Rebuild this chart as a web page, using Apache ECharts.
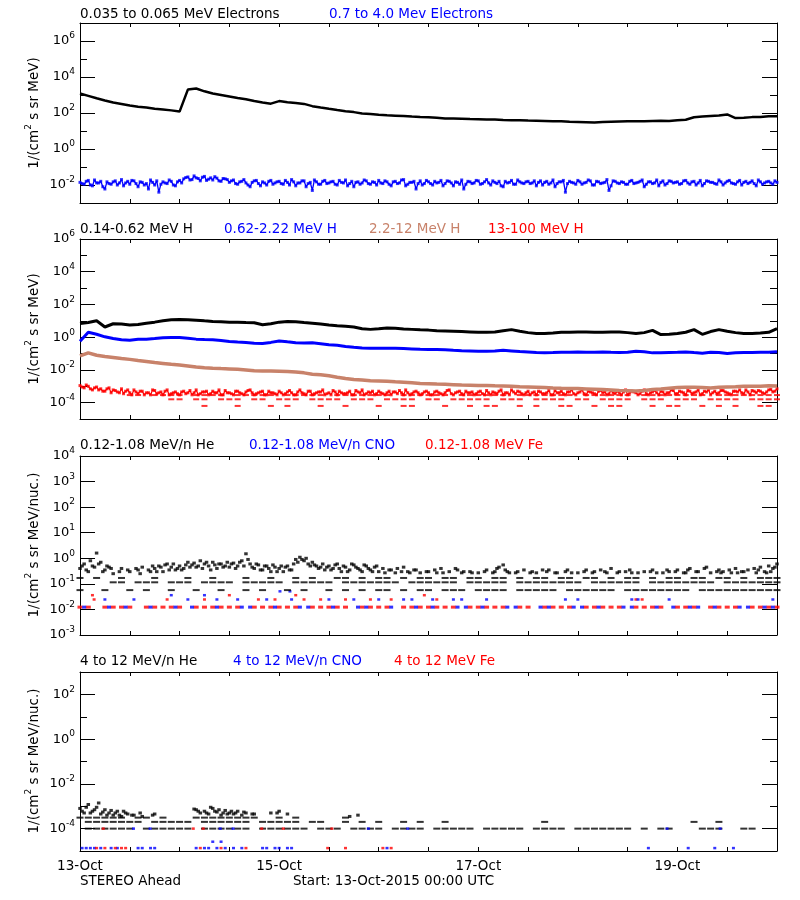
<!DOCTYPE html>
<html><head><meta charset="utf-8">
<script src="https://cdn.jsdelivr.net/npm/echarts@6/dist/echarts.min.js"></script>
<style>html,body{margin:0;padding:0;background:#fff}#c{width:800px;height:900px}</style>
</head><body><div id="c"></div>
<script>
// ================= DATA =================
const xTickHours = [0, 48, 96, 144];
const xTickLabels = ['13-Oct', '15-Oct', '17-Oct', '19-Oct'];
const yLabelExp1 = [-2, 0, 2, 4, 6];
const yLabelExp2 = [-4, -2, 0, 2, 4, 6];
const yLabelExp3 = [-3, -2, -1, 0, 1, 2, 3, 4];
const yLabelExp4 = [-4, -2, 0, 2];

// ---- Panel 1: electrons ----
// 0.035-0.065 MeV electrons, every 2 h from 13-Oct 00:00
const eLow = [1.2e3,8.9e2,6.6e2,5.0e2,3.8e2,3.2e2,2.6e2,2.2e2,2.0e2,1.7e2,1.55e2,1.4e2,
 1.2e2,2.0e3,2.3e3,1.6e3,1.2e3,1.0e3,8.3e2,6.9e2,5.8e2,4.6e2,3.8e2,3.3e2,
 4.6e2,4.0e2,3.6e2,3.2e2,2.4e2,2.0e2,1.7e2,1.45e2,1.26e2,1.12e2,95,87,
 79,74,71,68,63,60,58,54,50,50,48,46,
 45,44,43,41,40,40,38,37,36,35,35,33,
 32,31,30,32,33,34,35,35,35,36,37,36,
 40,42,58,63,68,72,83,52,55,59,60,66,
 66];
// 0.7-4.0 MeV electrons, hourly (on the hour) and hourly (half past)
const eHighA = [0.014,0.011,0.018,0.009,0.013,0.016,0.006,0.012,0.015,0.010,0.020,0.013,
 0.011,0.017,0.008,0.014,0.012,0.019,0.010,0.004,0.015,0.012,0.016,0.009,
 0.018,0.022,0.028,0.020,0.025,0.017,0.030,0.021,0.019,0.024,0.016,0.022,
 0.014,0.019,0.011,0.016,0.013,0.008,0.017,0.012,0.015,0.010,0.018,0.013,
 0.016,0.011,0.014,0.020,0.009,0.013,0.017,0.012,0.005,0.015,0.011,0.018,
 0.013,0.016,0.010,0.014,0.019,0.012,0.008,0.015,0.013,0.017,0.011,0.014,
 0.018,0.012,0.015,0.009,0.016,0.013,0.020,0.011,0.014,0.006,0.017,0.012,
 0.015,0.010,0.013,0.018,0.012,0.016,0.009,0.014,0.019,0.011,0.015,0.013,
 0.017,0.012,0.020,0.010,0.014,0.016,0.008,0.013,0.018,0.011,0.015,0.012,
 0.016,0.013,0.009,0.017,0.014,0.011,0.019,0.012,0.015,0.004,0.016,0.013,
 0.018,0.011,0.014,0.017,0.010,0.015,0.013,0.020,0.009,0.016,0.012,0.014,
 0.011,0.018,0.013,0.016,0.008,0.015,0.012,0.019,0.014,0.010,0.017,0.013,
 0.015,0.012,0.018,0.011,0.016,0.013,0.009,0.017,0.014,0.012,0.019,0.010,
 0.016,0.013,0.011,0.018,0.014,0.012,0.017,0.009,0.015,0.013,0.016,0.011,
 0.014];
const eHighB = [0.012,0.016,0.010,0.019,0.013,0.008,0.015,0.011,0.017,0.013,0.009,0.016,
 0.018,0.012,0.015,0.010,0.006,0.014,0.017,0.011,0.013,0.019,0.010,0.015,
 0.013,0.026,0.019,0.032,0.023,0.027,0.018,0.025,0.029,0.017,0.023,0.020,
 0.017,0.012,0.015,0.020,0.010,0.014,0.018,0.009,0.013,0.016,0.011,0.015,
 0.012,0.018,0.010,0.015,0.013,0.017,0.008,0.014,0.019,0.011,0.016,0.012,
 0.015,0.011,0.018,0.013,0.009,0.016,0.014,0.011,0.019,0.012,0.015,0.010,
 0.013,0.017,0.011,0.015,0.012,0.019,0.009,0.014,0.016,0.012,0.010,0.018,
 0.012,0.016,0.014,0.009,0.017,0.013,0.015,0.011,0.006,0.016,0.012,0.018,
 0.011,0.015,0.013,0.017,0.012,0.009,0.016,0.014,0.011,0.019,0.013,0.015,
 0.012,0.017,0.014,0.010,0.016,0.013,0.008,0.015,0.018,0.012,0.014,0.011,
 0.015,0.013,0.019,0.010,0.016,0.012,0.014,0.005,0.017,0.013,0.015,0.011,
 0.016,0.012,0.014,0.019,0.011,0.015,0.013,0.009,0.017,0.012,0.016,0.014,
 0.011,0.017,0.013,0.015,0.010,0.018,0.012,0.016,0.014,0.011,0.015,0.013,
 0.018,0.012,0.015,0.010,0.016,0.014,0.012,0.019,0.011,0.015,0.013,0.017];

// ---- Panel 2: protons, every 2 h ----
const hLow = [6.9,7.9,10,4.2,6.6,6.3,5.5,6.0,7.2,8.3,10,11.5,
 12,11.7,11,10,9.1,8.7,8.3,8.3,7.9,7.6,5.8,6.6,
 8.3,9.1,8.7,7.9,7.2,6.3,5.5,5.0,4.6,4.2,3.3,3.0,
 3.3,3.7,3.5,3.2,3.0,2.8,2.7,2.5,2.4,2.3,2.2,2.1,
 2.0,2.0,2.1,2.5,2.9,2.3,1.9,1.7,1.66,1.8,2.0,2.0,
 2.1,2.1,2.0,2.0,2.1,2.1,1.9,1.66,1.9,2.6,1.45,1.5,
 1.66,2.0,2.9,1.5,2.2,2.9,2.3,1.9,1.7,1.7,1.8,2.0,
 3.3];
const hMid = [0.56,2.0,1.5,1.05,0.83,0.69,0.66,0.74,0.76,0.83,0.91,0.95,
 0.95,0.87,0.76,0.72,0.69,0.63,0.55,0.50,0.47,0.43,0.41,0.48,
 0.59,0.52,0.46,0.44,0.45,0.40,0.35,0.32,0.27,0.24,0.22,0.21,
 0.21,0.21,0.21,0.20,0.19,0.18,0.178,0.174,0.17,0.158,0.15,0.145,
 0.138,0.138,0.141,0.158,0.145,0.132,0.126,0.117,0.112,0.115,0.12,0.12,
 0.123,0.12,0.12,0.126,0.12,0.115,0.12,0.14,0.13,0.11,0.11,0.115,
 0.12,0.126,0.115,0.105,0.12,0.115,0.10,0.11,0.115,0.115,0.12,0.12,
 0.13];
const hHigh = [0.071,0.11,0.079,0.066,0.058,0.050,0.044,0.038,0.033,0.028,0.025,0.022,
 0.020,0.0174,0.015,0.0135,0.0126,0.012,0.0115,0.011,0.010,0.0089,0.0085,0.0087,
 0.0083,0.0079,0.0074,0.0066,0.0055,0.0050,0.0044,0.0036,0.0030,0.0026,0.0024,0.0022,
 0.0021,0.0020,0.00186,0.00174,0.00162,0.0015,0.00145,0.00138,0.00132,0.00126,0.0012,0.00117,
 0.00112,0.0011,0.00107,0.00105,0.00102,0.00095,0.00091,0.00087,0.00083,0.00079,0.00076,0.00074,
 0.00072,0.00069,0.00066,0.00063,0.0006,0.00056,0.00054,0.00052,0.00055,0.00063,0.00069,0.00076,
 0.00083,0.00087,0.00087,0.00083,0.00079,0.00087,0.00091,0.00095,0.001,0.001,0.00102,0.00107,
 0.00105];
// 13-100 MeV H, hourly (on the hour / half past)
const vHighA = [11e-4,8e-4,10e-4,6e-4,9e-4,7e-4,5e-4,8e-4,6e-4,4.5e-4,7e-4,5e-4,
 4e-4,6e-4,3.5e-4,5e-4,4e-4,3e-4,5.5e-4,4e-4,3e-4,6e-4,3.5e-4,4.5e-4,
 3e-4,5e-4,4e-4,3e-4,6e-4,3.5e-4,4.5e-4,3e-4,5e-4,4e-4,3e-4,5.5e-4,
 4e-4,3e-4,5e-4,3.5e-4,4.5e-4,6e-4,3e-4,4e-4,5e-4,3e-4,4e-4,3.5e-4,
 5e-4,3e-4,4.5e-4,4e-4,3e-4,6e-4,3.5e-4,5e-4,3e-4,4e-4,4.5e-4,3e-4,
 4e-4,5.5e-4,3e-4,4e-4,3.5e-4,5e-4,3e-4,4.5e-4,6e-4,3.5e-4,4e-4,3e-4,
 5e-4,3.5e-4,4e-4,3e-4,4.5e-4,5.5e-4,3e-4,4e-4,3.5e-4,5e-4,3e-4,4.5e-4,
 4e-4,3e-4,5e-4,3.5e-4,4e-4,6e-4,3e-4,4.5e-4,3.5e-4,5e-4,4e-4,3e-4,
 4.5e-4,3.5e-4,5.5e-4,3e-4,4e-4,5e-4,3e-4,4e-4,6e-4,3.5e-4,4.5e-4,3e-4,
 5e-4,4e-4,3e-4,4.5e-4,3.5e-4,5.5e-4,3e-4,4e-4,5e-4,3e-4,4.5e-4,3.5e-4,
 4e-4,6e-4,3e-4,4.5e-4,3.5e-4,5e-4,4e-4,3e-4,5.5e-4,3.5e-4,4e-4,4.5e-4,
 3e-4,5e-4,4e-4,3.5e-4,6e-4,3e-4,4.5e-4,4e-4,5e-4,3e-4,4e-4,5.5e-4,
 3.5e-4,4.5e-4,3e-4,5e-4,4e-4,6e-4,3.5e-4,4.5e-4,3e-4,5e-4,4e-4,5.5e-4,
 4e-4,3e-4,5e-4,6e-4,3.5e-4,4.5e-4,5.5e-4,4e-4,5e-4,3.5e-4,6e-4,4.5e-4,
 7e-4];
const vHighB = [9e-4,12e-4,7e-4,8e-4,6e-4,5e-4,7e-4,4e-4,5.5e-4,4e-4,3.5e-4,6e-4,
 3e-4,4.5e-4,5e-4,3e-4,4e-4,6e-4,3.5e-4,4.5e-4,5e-4,3e-4,4e-4,3.5e-4,
 4.5e-4,3.5e-4,5.5e-4,4e-4,3e-4,4.5e-4,5e-4,3.5e-4,4e-4,6e-4,3e-4,4e-4,
 3.5e-4,5e-4,4e-4,3e-4,5.5e-4,4e-4,3.5e-4,4.5e-4,3e-4,5e-4,4e-4,3e-4,
 4e-4,3.5e-4,5.5e-4,3e-4,4.5e-4,4e-4,3e-4,5e-4,3.5e-4,4.5e-4,6e-4,3.5e-4,
 3e-4,4.5e-4,5e-4,3.5e-4,4e-4,3e-4,5.5e-4,4e-4,3e-4,4.5e-4,5e-4,3.5e-4,
 4e-4,3e-4,5e-4,4.5e-4,3.5e-4,4e-4,6e-4,3e-4,4.5e-4,4e-4,3.5e-4,5e-4,
 3e-4,4.5e-4,4e-4,3e-4,5.5e-4,3.5e-4,4e-4,5e-4,3e-4,4e-4,4.5e-4,3.5e-4,
 5e-4,3e-4,4e-4,4.5e-4,3.5e-4,6e-4,4e-4,3e-4,4.5e-4,5e-4,3.5e-4,4e-4,
 3e-4,4.5e-4,5e-4,3.5e-4,4e-4,3e-4,5.5e-4,4e-4,3.5e-4,4.5e-4,6e-4,3e-4,
 4.5e-4,3.5e-4,5e-4,4e-4,3e-4,5.5e-4,4.5e-4,3.5e-4,4e-4,5e-4,3e-4,6e-4,
 4e-4,4.5e-4,3e-4,5e-4,3.5e-4,4e-4,5.5e-4,3e-4,4.5e-4,4e-4,6e-4,3.5e-4,
 5e-4,4e-4,5.5e-4,3.5e-4,4.5e-4,3e-4,5e-4,6e-4,4e-4,3.5e-4,5.5e-4,4.5e-4,
 3.5e-4,5e-4,4.5e-4,4e-4,6e-4,3e-4,5e-4,5.5e-4,4e-4,4.5e-4,6.5e-4,5e-4];
// quantized low-count levels, every 2 h
const vHighRowA = [null,null,null,null,null,null,2.9e-4,2.9e-4,null,2.9e-4,2.9e-4,2.9e-4,
 2.9e-4,null,2.9e-4,2.9e-4,2.9e-4,2.9e-4,null,2.9e-4,2.9e-4,2.9e-4,2.9e-4,2.9e-4,
 null,2.9e-4,2.9e-4,2.9e-4,2.9e-4,2.9e-4,null,2.9e-4,2.9e-4,2.9e-4,2.9e-4,2.9e-4,
 2.9e-4,2.9e-4,null,2.9e-4,2.9e-4,2.9e-4,2.9e-4,2.9e-4,2.9e-4,null,2.9e-4,2.9e-4,
 2.9e-4,2.9e-4,2.9e-4,2.9e-4,null,2.9e-4,2.9e-4,2.9e-4,2.9e-4,2.9e-4,2.9e-4,2.9e-4,
 null,2.9e-4,2.9e-4,2.9e-4,2.9e-4,2.9e-4,2.9e-4,null,2.9e-4,2.9e-4,2.9e-4,2.9e-4,
 2.9e-4,2.9e-4,2.9e-4,2.9e-4,null,2.9e-4,2.9e-4,2.9e-4,2.9e-4,2.9e-4,2.9e-4,2.9e-4,
 2.9e-4];
const vHighRowB = [null,null,null,null,null,null,null,null,null,null,null,1.6e-4,
 1.6e-4,null,1.6e-4,1.6e-4,null,1.6e-4,1.6e-4,1.6e-4,null,1.6e-4,1.6e-4,null,
 1.6e-4,1.6e-4,1.6e-4,null,1.6e-4,1.6e-4,1.6e-4,1.6e-4,null,1.6e-4,1.6e-4,1.6e-4,
 null,1.6e-4,1.6e-4,1.6e-4,1.6e-4,null,1.6e-4,1.6e-4,null,1.6e-4,1.6e-4,1.6e-4,
 1.6e-4,1.6e-4,null,1.6e-4,1.6e-4,1.6e-4,null,1.6e-4,1.6e-4,1.6e-4,1.6e-4,null,
 1.6e-4,1.6e-4,null,1.6e-4,1.6e-4,1.6e-4,1.6e-4,null,1.6e-4,1.6e-4,1.6e-4,null,
 1.6e-4,1.6e-4,1.6e-4,null,1.6e-4,1.6e-4,1.6e-4,1.6e-4,null,1.6e-4,1.6e-4,1.6e-4,
 1.6e-4];
const vHighRowC = [null,null,null,null,null,null,null,null,null,null,null,null,
 null,null,null,6.3e-5,null,null,null,6.3e-5,null,null,null,6.3e-5,
 null,6.3e-5,null,null,null,6.3e-5,null,null,6.3e-5,null,null,null,
 6.3e-5,null,null,6.3e-5,6.3e-5,null,null,null,6.3e-5,null,null,6.3e-5,
 null,6.3e-5,6.3e-5,null,null,6.3e-5,null,6.3e-5,null,null,6.3e-5,6.3e-5,
 null,null,6.3e-5,null,6.3e-5,6.3e-5,null,null,null,6.3e-5,null,6.3e-5,
 6.3e-5,null,null,6.3e-5,null,6.3e-5,null,6.3e-5,null,null,6.3e-5,6.3e-5,
 null];

// ---- Panel 3: 0.12-1.08 MeV/n heavy ions ----
const heLowA = [0.4,0.6,0.3,0.5,1.6,0.7,0.35,0.45,0.25,null,0.4,null,
 0.3,null,0.35,0.45,null,0.3,0.4,0.5,0.3,0.6,0.45,0.35,
 0.5,0.4,0.7,0.55,0.45,0.8,0.6,0.5,0.7,0.4,0.6,0.5,
 0.45,0.65,0.5,0.8,1.5,0.6,0.4,0.55,0.35,0.5,0.3,0.45,
 0.4,0.3,0.5,0.35,0.9,1.1,0.8,0.6,0.7,0.5,0.45,0.35,
 0.5,0.4,0.6,0.3,0.45,0.35,0.55,0.4,0.3,0.5,0.35,0.45,
 0.3,0.4,null,0.35,0.27,null,0.45,0.3,null,0.35,0.27,null,
 0.3,null,0.27,0.4,null,0.3,null,0.35,0.27,null,0.3,null,
 0.27,null,0.35,null,0.3,0.45,0.55,0.3,null,0.27,null,0.35,
 null,0.3,0.27,null,null,0.35,null,0.27,null,0.3,null,null,
 0.27,null,0.35,null,0.3,null,null,0.27,0.4,null,0.3,null,
 null,0.27,null,null,0.3,null,0.35,0.27,null,null,0.3,null,
 0.35,null,0.27,0.4,null,0.3,null,0.45,0.27,null,0.35,0.3,
 null,0.27,0.4,null,0.3,0.35,null,0.27,0.45,0.3,0.5,0.4,
 0.6];
const heLowB = [0.5,0.35,0.8,0.45,0.6,0.3,0.5,0.4,null,0.3,null,0.35,
 null,0.4,0.25,null,0.35,0.5,0.3,0.45,0.55,0.35,0.6,0.4,
 0.35,0.55,0.45,0.65,0.5,0.4,0.7,0.35,0.55,0.6,0.45,0.7,
 0.6,0.4,0.7,0.5,0.9,0.45,0.6,0.35,0.5,0.4,0.55,0.3,
 0.5,0.45,0.35,0.6,0.7,0.9,1.0,0.5,0.55,0.4,0.6,0.45,
 0.35,0.55,0.4,0.5,0.3,0.6,0.45,0.35,0.55,0.4,0.3,0.5,
 null,0.27,0.35,null,0.4,0.3,null,0.27,0.35,null,null,0.3,
 null,0.35,null,0.27,null,null,0.4,null,0.3,null,0.27,null,
 null,0.3,null,0.27,0.4,null,0.35,0.27,null,0.3,null,null,
 0.27,null,null,0.35,0.3,null,0.27,null,null,0.35,0.27,null,
 null,0.3,null,0.27,null,0.35,0.3,null,null,0.27,null,0.3,
 0.35,null,0.27,null,null,0.3,null,null,0.27,0.35,null,0.3,
 null,0.27,0.35,null,0.3,null,0.4,null,null,0.3,0.27,null,
 0.35,null,0.27,0.3,null,null,0.4,0.35,null,0.27,0.3,0.45];
// quantized He levels, every 2 h
const heLowRow3 = [0.17,null,0.17,null,null,0.17,null,null,null,0.17,null,null,
 null,0.17,null,null,0.17,null,null,null,0.17,null,null,0.17,
 null,null,0.17,null,0.17,null,null,0.17,0.17,null,0.17,null,
 0.17,0.17,null,0.17,null,0.17,0.17,null,0.17,0.17,null,0.17,
 0.17,null,0.17,0.17,null,0.17,null,0.17,0.17,null,0.17,0.17,
 null,0.17,0.17,null,0.17,null,0.17,0.17,null,0.17,null,0.17,
 0.17,null,0.17,0.17,null,0.17,0.17,null,0.17,null,0.17,0.17,
 0.17];
const heLowRow2 = [null,null,null,null,0.115,0.115,null,0.115,0.115,0.115,null,0.115,
 0.115,0.115,null,0.115,0.115,0.115,0.115,null,0.115,0.115,0.115,0.115,
 0.115,null,0.115,0.115,0.115,0.115,0.115,null,0.115,0.115,0.115,0.115,
 0.115,0.115,0.115,null,0.115,0.115,0.115,0.115,0.115,0.115,null,0.115,
 0.115,0.115,0.115,0.115,null,0.115,0.115,0.115,0.115,0.115,0.115,0.115,
 0.115,null,0.115,0.115,0.115,0.115,0.115,0.115,null,0.115,0.115,0.115,
 0.115,0.115,0.115,0.115,0.115,null,0.115,0.115,0.115,0.115,0.115,0.115,
 0.115];
const heLowRow1 = [0.057,null,null,0.057,null,null,0.057,null,0.057,null,null,0.057,
 null,null,0.057,null,null,0.057,null,null,0.057,null,0.057,null,
 null,0.057,null,0.057,null,null,0.057,null,0.057,null,0.057,null,
 0.057,0.057,null,0.057,null,0.057,0.057,null,0.057,0.057,0.057,null,
 0.057,0.057,0.057,0.057,null,0.057,0.057,0.057,0.057,0.057,null,0.057,
 0.057,0.057,0.057,0.057,0.057,null,0.057,0.057,0.057,0.057,0.057,0.057,
 0.057,0.057,null,0.057,0.057,0.057,0.057,0.057,0.057,0.057,0.057,0.057,
 0.057];
// Fe (even hours) and CNO (odd hours) lowest-count level
const feLowRow = [0.0123,0.0123,null,0.0123,0.0123,0.0123,0.0123,null,0.0123,0.0123,0.0123,0.0123,
 0.0123,null,0.0123,0.0123,0.0123,0.0123,0.0123,0.0123,null,0.0123,0.0123,0.0123,
 0.0123,0.0123,0.0123,null,0.0123,0.0123,0.0123,0.0123,0.0123,null,0.0123,0.0123,
 0.0123,0.0123,null,0.0123,0.0123,0.0123,0.0123,0.0123,0.0123,0.0123,null,0.0123,
 0.0123,0.0123,0.0123,0.0123,null,0.0123,0.0123,null,0.0123,0.0123,0.0123,0.0123,
 null,0.0123,0.0123,0.0123,0.0123,0.0123,null,0.0123,0.0123,0.0123,0.0123,null,
 0.0123,0.0123,0.0123,null,0.0123,0.0123,0.0123,0.0123,null,0.0123,0.0123,0.0123,
 0.0123];
const cnoLowRow = [0.0123,null,null,0.0123,null,0.0123,null,null,0.0123,null,null,0.0123,
 null,0.0123,null,null,0.0123,null,null,0.0123,0.0123,null,null,0.0123,
 null,null,0.0123,0.0123,null,null,0.0123,null,null,0.0123,0.0123,null,
 null,0.0123,null,null,0.0123,null,0.0123,null,null,0.0123,0.0123,null,
 0.0123,null,null,0.0123,0.0123,null,null,0.0123,0.0123,null,null,0.0123,
 0.0123,null,0.0123,null,null,0.0123,0.0123,null,null,0.0123,null,0.0123,
 null,0.0123,0.0123,null,0.0123,null,null,0.0123,0.0123,null,0.0123,0.0123];
// sparse higher-count points [hour, flux]
const feLowMid = [[3.4,0.0245],[21,0.0245],[30,0.0245],[43,0.0245],[47,0.0245],[54,0.0245],[58,0.0245],[64,0.0245],[70,0.0245],[75,0.0245],[86,0.0245],[134,0.0245],[135.5,0.0245],[3,0.036],[36,0.036],[52,0.036],[83,0.036]];
const cnoLowMid = [[6,0.0245],[13,0.0245],[26,0.0245],[33,0.0245],[38,0.0245],[45,0.0245],[51,0.0245],[60,0.0245],[66,0.0245],[72,0.0245],[78,0.0245],[80,0.0245],[85,0.0245],[90,0.0245],[92,0.0245],[98,0.0245],[117,0.0245],[120,0.0245],[133,0.0245],[134.5,0.0245],[142,0.0245],[167,0.0245],[22,0.036],[30,0.036],[48.2,0.051],[50.6,0.051]];

// ---- Panel 4: 4-12 MeV/n heavy ions ----
const heHiA = [8e-4,5e-4,1.2e-3,6e-4,9e-4,4.5e-4,7e-4,5e-4,4e-4,6e-4,3.5e-4,5e-4,
 null,4e-4,null,3.5e-4,null,null,4.5e-4,null,null,null,null,null,
 null,null,null,null,7e-4,5e-4,6e-4,4.5e-4,8e-4,5.5e-4,4e-4,6.5e-4,
 5e-4,4.5e-4,6e-4,4e-4,5e-4,null,4.5e-4,null,null,null,5e-4,null,
 6e-4,null,4.5e-4,null,null,null,null,null,null,null,null,null,
 null,null,null,null,null,3.5e-4,null,4e-4,null,null,null,null];
const heHiB = [6e-4,9e-4,5e-4,7e-4,1.4e-3,5.5e-4,4e-4,6.5e-4,5e-4,4e-4,6e-4,4.5e-4,
 4e-4,null,5e-4,null,null,4e-4,null,null,null,null,null,null,
 null,null,null,7.5e-4,6e-4,null,5e-4,9e-4,6e-4,7e-4,5e-4,4.5e-4,
 6e-4,5e-4,null,5.5e-4,null,4.5e-4,null,null,null,null,null,5e-4];
const heHiRowA = [3.1e-4,3.1e-4,3.1e-4,3.1e-4,3.1e-4,3.1e-4,null,3.1e-4,3.1e-4,null,3.1e-4,null,
 null,null,3.1e-4,3.1e-4,3.1e-4,3.1e-4,3.1e-4,3.1e-4,3.1e-4,3.1e-4,null,null,
 3.1e-4,null,3.1e-4,null,null,null,null,null,3.1e-4,null,null,null];
const heHiRowB = [null,2e-4,2e-4,2e-4,2e-4,2e-4,2e-4,2e-4,null,2e-4,2e-4,2e-4,
 2e-4,2e-4,null,2e-4,2e-4,2e-4,2e-4,2e-4,2e-4,null,2e-4,2e-4,
 2e-4,2e-4,2e-4,null,2e-4,2e-4,null,null,2e-4,null,2e-4,null,
 2e-4,null,null,2e-4,null,2e-4,null,null,2e-4,null,null,null,
 null,null,null,null,null,null,null,null,2e-4,null,null,null,
 null,null,null,null,null,null,null,null,null,null,null,null,
 null,null,2e-4,null,null,2e-4,null,null,null,null,null,null,
 null];
const heHiRowC = [null,1e-4,1e-4,1e-4,1e-4,1e-4,1e-4,null,1e-4,1e-4,1e-4,1e-4,
 1e-4,1e-4,null,1e-4,1e-4,1e-4,1e-4,1e-4,1e-4,null,1e-4,1e-4,
 1e-4,1e-4,1e-4,1e-4,null,1e-4,1e-4,1e-4,null,1e-4,1e-4,1e-4,
 1e-4,null,1e-4,1e-4,1e-4,1e-4,null,1e-4,1e-4,1e-4,1e-4,1e-4,
 null,1e-4,1e-4,1e-4,1e-4,1e-4,null,1e-4,1e-4,1e-4,1e-4,null,
 1e-4,1e-4,1e-4,1e-4,1e-4,1e-4,1e-4,null,1e-4,null,1e-4,1e-4,
 null,null,null,1e-4,1e-4,1e-4,null,null,1e-4,1e-4,null,null,
 null];
const cnoHi = [[12.9,1e-4],[16.9,1e-4],[33.8,1e-4],[36.9,1e-4],[69.5,1e-4],[79,1e-4],[141.5,1e-4],[154.3,1e-4],
 [0.5,1.35e-5],[1.5,1.35e-5],[2.5,1.35e-5],[3.5,1.35e-5],[5,1.35e-5],[7.5,1.35e-5],[9,1.35e-5],[14,1.35e-5],[15,1.35e-5],[17,1.35e-5],[18,1.35e-5],[28,1.35e-5],[30,1.35e-5],[31,1.35e-5],[33,1.35e-5],[35,1.35e-5],[37,1.35e-5],[39,1.35e-5],[44,1.35e-5],[45,1.35e-5],[47,1.35e-5],[48,1.35e-5],[50,1.35e-5],[51,1.35e-5],[74,1.35e-5],[137,1.35e-5],[146.6,1.35e-5],[153,1.35e-5],[157.5,1.35e-5],
 [32,2.6e-5],[34,2.6e-5]];
const feHi = [[5.6,1e-4],[27.3,1e-4],[29.7,1e-4],[43.8,1e-4],[49,1e-4],[60.7,1e-4],
 [4,1.35e-5],[6,1.35e-5],[8.5,1.35e-5],[10,1.35e-5],[11,1.35e-5],[29,1.35e-5],[34,1.35e-5],[40,1.35e-5],[59.7,1.35e-5],[64,1.35e-5],[73,1.35e-5],[75,1.35e-5]];

// ================= CHART =================
const FONT = 'DejaVu Sans';
const BLACK = '#000000', BLUE = '#0000ff', RED = '#ff0000', BROWN = '#c8826a';

function seq(arr, step, start) {
  const out = [];
  arr.forEach((v, i) => { if (v != null) out.push([start + i * step, v]); });
  return out;
}
// merge the on-the-hour and half-past samples into one time-ordered list
function merged(a, b) {
  const out = [];
  a.forEach((v, i) => {
    if (v != null) out.push([i, v]);
    if (i < b.length && b[i] != null) out.push([i + 0.5, b[i]]);
  });
  return out;
}

const panels = [
  { top: 23, height: 180, min: -3, max: 7, labels: yLabelExp1, minor: true },
  { top: 239, height: 180, min: -5, max: 6, labels: yLabelExp2, minor: true },
  { top: 456, height: 179, min: -3, max: 4, labels: yLabelExp3, minor: false },
  { top: 672, height: 179, min: -5, max: 3, labels: yLabelExp4, minor: true }
];

const lineBlack = { color: BLACK, width: 1 };
const grid = panels.map(p => ({ left: 80, right: 23, top: p.top, height: p.height, containLabel: false, outerBoundsMode: 'none' }));

const xAxis = [];
panels.forEach((p, g) => {
  const base = {
    type: 'value', gridIndex: g, min: 0, max: 168, interval: 12,
    axisLine: { show: true, onZero: false, lineStyle: lineBlack },
    axisTick: { show: true, inside: true, length: 4, lineStyle: lineBlack },
    splitLine: { show: false }
  };
  xAxis.push(Object.assign({}, base, {
    position: 'bottom',
    axisLabel: g === 3 ? {
      show: true, customValues: xTickHours, margin: 8, color: BLACK, fontFamily: FONT, fontSize: 13.5,
      formatter: v => xTickLabels[xTickHours.indexOf(v)] || ''
    } : { show: false }
  }));
  xAxis.push(Object.assign({}, base, { position: 'top', axisLabel: { show: false } }));
});

const yAxis = [];
panels.forEach((p, g) => {
  const base = { type: 'value', gridIndex: g, min: p.min, max: p.max, interval: 1, splitLine: { show: false } };
  yAxis.push({ type: 'log', logBase: 10, gridIndex: g, min: Math.pow(10, p.min), max: Math.pow(10, p.max), position: 'left', show: false });
  yAxis.push(Object.assign({}, base, {
    position: 'left',
    axisLine: { show: true, onZero: false, lineStyle: lineBlack },
    axisTick: { show: true, inside: true, length: 15, customValues: p.labels, lineStyle: lineBlack },
    axisLabel: {
      show: true, customValues: p.labels, margin: 5,
      formatter: v => '{b|10}{s|' + v + '}',
      rich: {
        b: { fontSize: 13, fontFamily: FONT, color: BLACK },
        s: { fontSize: 9, fontFamily: FONT, color: BLACK, padding: [0, 0, 10, 0] }
      }
    }
  }));
  yAxis.push(Object.assign({}, base, {
    position: 'left', axisLine: { show: false },
    axisTick: { show: p.minor, inside: true, length: 7, lineStyle: lineBlack }, axisLabel: { show: false }
  }));
  yAxis.push(Object.assign({}, base, {
    position: 'right',
    axisLine: { show: true, onZero: false, lineStyle: lineBlack },
    axisTick: { show: true, inside: true, length: 15, customValues: p.labels, lineStyle: lineBlack },
    axisLabel: { show: false }
  }));
  yAxis.push(Object.assign({}, base, {
    position: 'right', axisLine: { show: false },
    axisTick: { show: p.minor, inside: true, length: 7, lineStyle: lineBlack }, axisLabel: { show: false }
  }));
});

function sc(g, data, color, size, z) {
  return { type: 'scatter', xAxisIndex: 2 * g, yAxisIndex: 5 * g, data, symbol: 'rect', symbolSize: size,
    itemStyle: { color }, silent: true, z: z || 2 };
}
function ln(g, data, color, width, z) {
  return { type: 'line', xAxisIndex: 2 * g, yAxisIndex: 5 * g, data, showSymbol: false, symbol: 'none',
    lineStyle: { color, width }, silent: true, z: z || 3 };
}

const series = [
  // panel 1
  ln(0, merged(eHighA, eHighB), BLUE, 1.3, 2),
  sc(0, seq(eHighA, 1, 0), BLUE, [3, 3]),
  sc(0, seq(eHighB, 1, 0.5), BLUE, [3, 3]),
  ln(0, seq(eLow, 2, 0), BLACK, 2.5),
  // panel 2
  sc(1, seq(vHighRowC, 2, 0), RED, [6, 2]),
  sc(1, seq(vHighRowB, 2, 0), RED, [6, 2]),
  sc(1, seq(vHighRowA, 2, 0), RED, [6, 2]),
  ln(1, merged(vHighA, vHighB), RED, 1.2, 2),
  sc(1, seq(vHighA, 1, 0), RED, [3, 3]),
  sc(1, seq(vHighB, 1, 0.5), RED, [3, 3]),
  ln(1, seq(hHigh, 2, 0), BROWN, 3.5),
  ln(1, seq(hMid, 2, 0), BLUE, 3),
  ln(1, seq(hLow, 2, 0), BLACK, 3),
  // panel 3
  sc(2, seq(feLowRow, 2, 0), RED, [5, 3]),
  sc(2, seq(cnoLowRow, 2, 1), BLUE, [4, 3]),
  sc(2, feLowMid, RED, [3, 2.5]),
  sc(2, cnoLowMid, BLUE, [3, 2.5]),
  sc(2, seq(heLowRow1, 2, 0), BLACK, [7, 2]),
  sc(2, seq(heLowRow2, 2, 0), BLACK, [7, 2]),
  sc(2, seq(heLowRow3, 2, 0), BLACK, [7, 2]),
  sc(2, seq(heLowA, 1, 0), BLACK, [3.5, 3]),
  sc(2, seq(heLowB, 1, 0.5), BLACK, [3.5, 3]),
  // panel 4
  sc(3, seq(heHiRowC, 2, 0), BLACK, [7, 2]),
  sc(3, seq(heHiRowB, 2, 0), BLACK, [7, 2]),
  sc(3, seq(heHiRowA, 2, 0), BLACK, [7, 2]),
  sc(3, seq(heHiA, 1, 0), BLACK, [3.5, 3]),
  sc(3, seq(heHiB, 1, 0.5), BLACK, [3.5, 3]),
  sc(3, cnoHi, BLUE, [3, 2.5], 4),
  sc(3, feHi, RED, [3, 2.5], 4)
];

const texts = [
  ['0.035 to 0.065 MeV Electrons', 80, 14, BLACK],
  ['0.7 to 4.0 Mev Electrons', 329, 14, BLUE],
  ['0.14-0.62 MeV H', 80, 229, BLACK],
  ['0.62-2.22 MeV H', 224, 229, BLUE],
  ['2.2-12 MeV H', 369, 229, BROWN],
  ['13-100 MeV H', 488, 229, RED],
  ['0.12-1.08 MeV/n He', 80, 445, BLACK],
  ['0.12-1.08 MeV/n CNO', 249, 445, BLUE],
  ['0.12-1.08 MeV Fe', 425, 445, RED],
  ['4 to 12 MeV/n He', 80, 661, BLACK],
  ['4 to 12 MeV/n CNO', 233, 661, BLUE],
  ['4 to 12 MeV Fe', 394, 661, RED],
  ['STEREO Ahead', 80, 881, BLACK],
  ['Start: 13-Oct-2015 00:00 UTC', 293, 881, BLACK]
];
const graphic = texts.map(t => ({
  type: 'text', x: t[1], y: t[2], silent: true,
  style: { text: t[0], fill: t[3], font: '13.5px "' + FONT + '"', textAlign: 'left', textVerticalAlign: 'middle' }
}));
const yNames = [
  ['1/(cm{s|2} s sr MeV)', 113],
  ['1/(cm{s|2} s sr MeV)', 329],
  ['1/(cm{s|2} s sr MeV/nuc.)', 545],
  ['1/(cm{s|2} s sr MeV/nuc.)', 761]
];
yNames.forEach(n => graphic.push({
  type: 'text', x: 34, y: n[1], rotation: Math.PI / 2, silent: true,
  style: {
    text: n[0], fill: BLACK, fontFamily: FONT, fontSize: 13.5, textAlign: 'center', textVerticalAlign: 'middle',
    rich: { s: { fontSize: 9, fontFamily: FONT, fill: BLACK, padding: [0, 0, 10, 0] } }
  }
}));

const chart = echarts.init(document.getElementById('c'), null, { renderer: 'canvas' });
chart.setOption({ animation: false, backgroundColor: '#ffffff', grid, xAxis, yAxis, series, graphic });
</script></body></html>
